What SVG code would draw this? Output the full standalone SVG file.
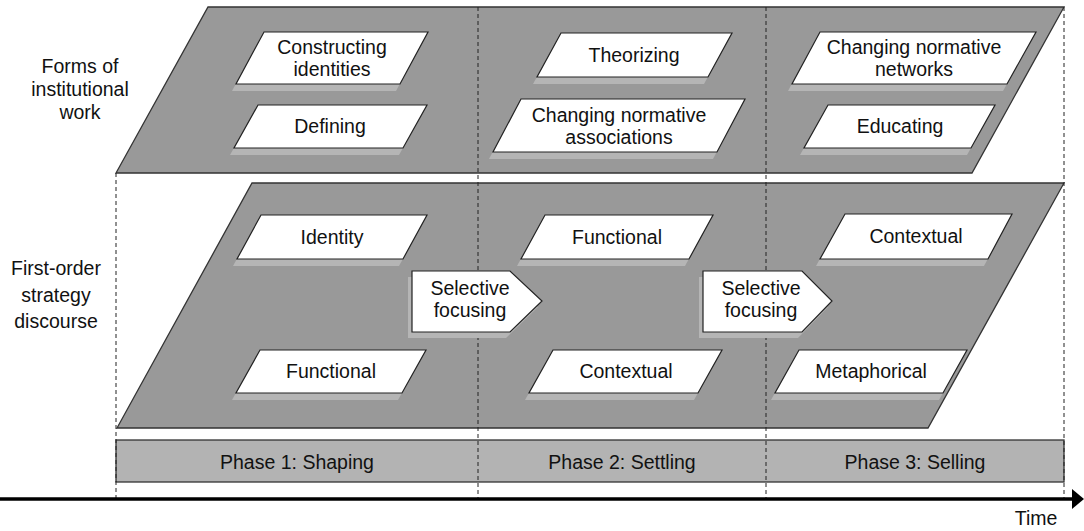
<svg xmlns="http://www.w3.org/2000/svg" width="1084" height="531" viewBox="0 0 1084 531">
<style>
text{font-family:"Liberation Sans",Arial,sans-serif;font-size:19.5px;fill:#111;text-anchor:middle}
.plane{fill:#999;stroke:#333;stroke-width:1.3}
.box{fill:#fff;stroke:#222;stroke-width:1.2}
.sh{fill:#b5b5b5;stroke:none}
.dash{stroke:#222;stroke-width:1;stroke-dasharray:4 3;fill:none}
.bar{fill:#b3b3b3;stroke:#333;stroke-width:1.3}
</style>
<defs>
<marker id="ah" viewBox="0 0 12 20" refX="0" refY="10" markerWidth="12" markerHeight="20" markerUnits="userSpaceOnUse" orient="auto"><path d="M0,0 L12,10 L0,20 Z" fill="#000"/></marker>
</defs>
<g id="labels">
<text x="80" y="73">Forms of</text>
<text x="80" y="96">institutional</text>
<text x="80" y="119">work</text>
<text x="56" y="275">First-order</text>
<text x="56" y="301.5">strategy</text>
<text x="56" y="328">discourse</text>
<text x="1036" y="525">Time</text>
</g>
<g id="plane-institutional-work"><path class="plane" d="M208,7 H1064 L972,173 H116 Z"/></g>
<g id="plane-strategy-discourse"><path class="plane" d="M252,183 H1064 L928,428 H117 Z"/></g>
<g id="phases">
<rect class="bar" x="116" y="440" width="948" height="42"/>
<text x="297" y="469">Phase 1: Shaping</text>
<text x="622" y="469">Phase 2: Settling</text>
<text x="915" y="469">Phase 3: Selling</text>
</g>
<g id="dividers">
<line class="dash" x1="116" y1="173" x2="116" y2="499"/>
<line class="dash" x1="478" y1="7" x2="478" y2="499"/>
<line class="dash" x1="766" y1="7" x2="766" y2="499"/>
<line class="dash" x1="1064" y1="7" x2="1064" y2="499"/>
</g>
<g id="n-constructing">
<path class="sh" transform="translate(-4,7)" d="M264,32 H428 L400,84 H236 Z"/>
<path class="box" d="M264,32 H428 L400,84 H236 Z"/>
<text x="332" y="54">Constructing</text><text x="332" y="76">identities</text>
</g>
<g id="n-defining">
<path class="sh" transform="translate(-4,7)" d="M258,105 H427 L403,148 H234 Z"/>
<path class="box" d="M258,105 H427 L403,148 H234 Z"/>
<text x="330" y="133">Defining</text>
</g>
<g id="n-theorizing">
<path class="sh" transform="translate(-4,7)" d="M561,33 H732 L708,77 H537 Z"/>
<path class="box" d="M561,33 H732 L708,77 H537 Z"/>
<text x="634" y="62">Theorizing</text>
</g>
<g id="n-associations">
<path class="sh" transform="translate(-4,7)" d="M521,99 H745 L717,152 H493 Z"/>
<path class="box" d="M521,99 H745 L717,152 H493 Z"/>
<text x="619" y="122">Changing normative</text><text x="619" y="144">associations</text>
</g>
<g id="n-networks">
<path class="sh" transform="translate(-4,7)" d="M820,32 H1036 L1007,84 H792 Z"/>
<path class="box" d="M820,32 H1036 L1007,84 H792 Z"/>
<text x="914" y="54">Changing normative</text><text x="914" y="76">networks</text>
</g>
<g id="n-educating">
<path class="sh" transform="translate(-4,7)" d="M828,105 H995 L971,148 H804 Z"/>
<path class="box" d="M828,105 H995 L971,148 H804 Z"/>
<text x="900" y="133">Educating</text>
</g>
<g id="n-identity">
<path class="sh" transform="translate(-4,7)" d="M261,215 H427 L403,259 H237 Z"/>
<path class="box" d="M261,215 H427 L403,259 H237 Z"/>
<text x="332" y="244">Identity</text>
</g>
<g id="n-functional-1">
<path class="sh" transform="translate(-4,7)" d="M260,350 H426 L402,393 H236 Z"/>
<path class="box" d="M260,350 H426 L402,393 H236 Z"/>
<text x="331" y="378">Functional</text>
</g>
<g id="n-functional-2">
<path class="sh" transform="translate(-4,7)" d="M545,215 H713 L689,259 H521 Z"/>
<path class="box" d="M545,215 H713 L689,259 H521 Z"/>
<text x="617" y="244">Functional</text>
</g>
<g id="n-contextual-2">
<path class="sh" transform="translate(-4,7)" d="M553,350 H722 L698,393 H529 Z"/>
<path class="box" d="M553,350 H722 L698,393 H529 Z"/>
<text x="626" y="378">Contextual</text>
</g>
<g id="n-contextual-3">
<path class="sh" transform="translate(-4,7)" d="M845,214 H1012 L988,259 H820 Z"/>
<path class="box" d="M845,214 H1012 L988,259 H820 Z"/>
<text x="916" y="243">Contextual</text>
</g>
<g id="n-metaphorical">
<path class="sh" transform="translate(-4,7)" d="M799,350 H967 L943,393 H775 Z"/>
<path class="box" d="M799,350 H967 L943,393 H775 Z"/>
<text x="871" y="378">Metaphorical</text>
</g>
<g id="n-selective-1">
<path class="sh" transform="translate(-4,6)" d="M412,271 H510 L542,301 L510,332 H412 Z"/>
<path class="box" d="M412,271 H510 L542,301 L510,332 H412 Z"/>
<text x="470" y="295">Selective</text><text x="470" y="317">focusing</text>
</g>
<g id="n-selective-2">
<path class="sh" transform="translate(-4,6)" d="M703,271 H802 L832,301 L802,332 H703 Z"/>
<path class="box" d="M703,271 H802 L832,301 L802,332 H703 Z"/>
<text x="761" y="295">Selective</text><text x="761" y="317">focusing</text>
</g>
<g id="connectors">
<line x1="0" y1="499" x2="1072" y2="499" stroke="#000" stroke-width="3.5" marker-end="url(#ah)"/>
</g>
</svg>
